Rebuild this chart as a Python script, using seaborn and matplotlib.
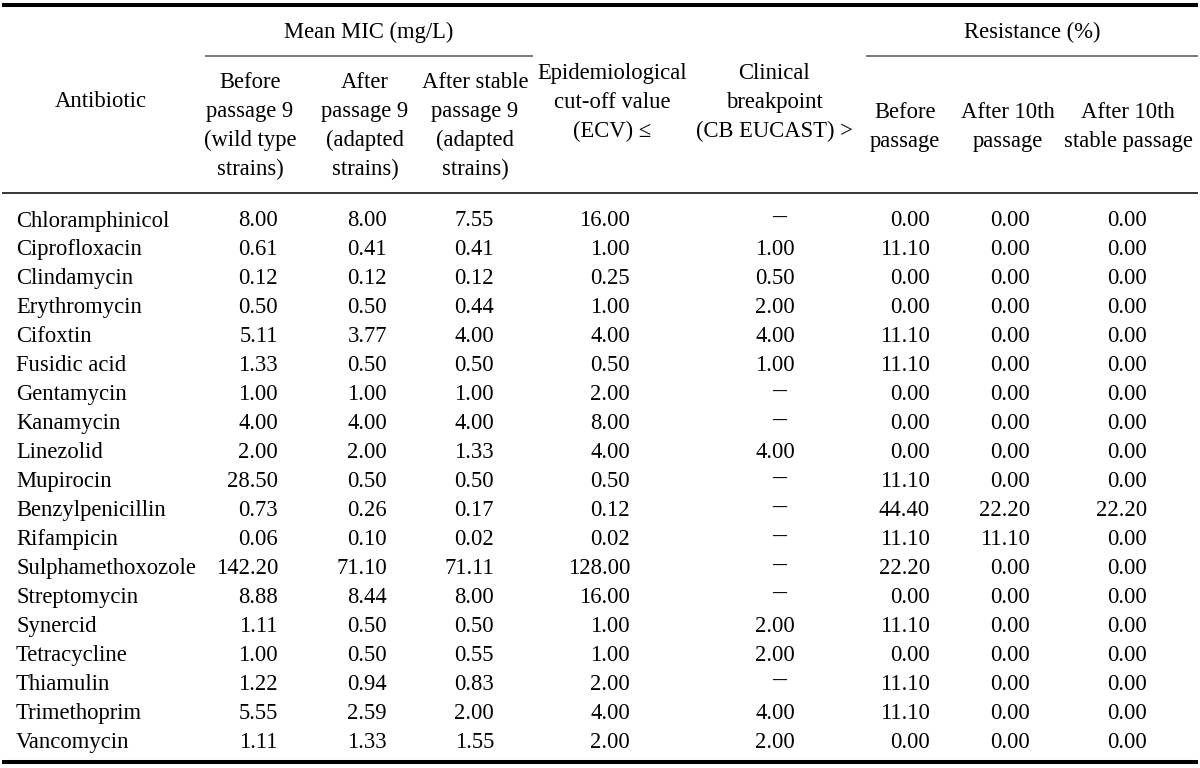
import matplotlib
matplotlib.use("Agg")
import matplotlib.pyplot as plt
import seaborn as sns
import pandas as pd
import numpy as np

antibiotics = ["Chloramphinicol", "Ciprofloxacin", "Clindamycin", "Erythromycin", "Cifoxtin",
               "Fusidic acid", "Gentamycin", "Kanamycin", "Linezolid", "Mupirocin",
               "Benzylpenicillin", "Rifampicin", "Sulphamethoxozole", "Streptomycin",
               "Synercid", "Tetracycline", "Thiamulin", "Trimethoprim", "Vancomycin"]
mic_before = [8.00, 0.61, 0.12, 0.50, 5.11, 1.33, 1.00, 4.00, 2.00, 28.50, 0.73, 0.06,
              142.20, 8.88, 1.11, 1.00, 1.22, 5.55, 1.11]
mic_after = [8.00, 0.41, 0.12, 0.50, 3.77, 0.50, 1.00, 4.00, 2.00, 0.50, 0.26, 0.10,
             71.10, 8.44, 0.50, 0.50, 0.94, 2.59, 1.33]
mic_stable = [7.55, 0.41, 0.12, 0.44, 4.00, 0.50, 1.00, 4.00, 1.33, 0.50, 0.17, 0.02,
              71.11, 8.00, 0.50, 0.55, 0.83, 2.00, 1.55]
ecv = [16.00, 1.00, 0.25, 1.00, 4.00, 0.50, 2.00, 8.00, 4.00, 0.50, 0.12, 0.02,
       128.00, 16.00, 1.00, 1.00, 2.00, 4.00, 2.00]
cb = [None, 1.00, 0.50, 2.00, 4.00, 1.00, None, None, 4.00, None, None, None,
      None, None, 2.00, 2.00, None, 4.00, 2.00]
res_before = [0.00, 11.10, 0.00, 0.00, 11.10, 11.10, 0.00, 0.00, 0.00, 11.10, 44.40, 11.10,
              22.20, 0.00, 11.10, 0.00, 11.10, 11.10, 0.00]
res_after = [0.00, 0.00, 0.00, 0.00, 0.00, 0.00, 0.00, 0.00, 0.00, 0.00, 22.20, 11.10,
             0.00, 0.00, 0.00, 0.00, 0.00, 0.00, 0.00]
res_stable = [0.00, 0.00, 0.00, 0.00, 0.00, 0.00, 0.00, 0.00, 0.00, 0.00, 22.20, 0.00,
              0.00, 0.00, 0.00, 0.00, 0.00, 0.00, 0.00]

group_labels = ["Mean MIC (mg/L)", "Resistance (%)"]
col_headers = [
    ["Before", "passage 9", "(wild type", "strains)"],
    ["After", "passage 9", "(adapted", "strains)"],
    ["After stable", "passage 9", "(adapted", "strains)"],
    ["Epidemiological", "cut-off value", "(ECV) \u2264"],
    ["Clinical", "breakpoint", "(CB EUCAST) >"],
    ["Before", "passage"],
    ["After 10th", "passage"],
    ["After 10th", "stable passage"],
]

df = pd.DataFrame({
    "Antibiotic": antibiotics,
    "mic_before": mic_before, "mic_after": mic_after, "mic_stable": mic_stable,
    "ecv": ecv, "cb": cb,
    "res_before": res_before, "res_after": res_after, "res_stable": res_stable,
})
value_cols = ["mic_before", "mic_after", "mic_stable", "ecv", "cb",
              "res_before", "res_after", "res_stable"]

sns.set_theme(style="white")
plt.rcParams["font.family"] = ["Liberation Serif", "DejaVu Serif"]

W, H = 1200, 768
fig = plt.figure(figsize=(W / 100, H / 100), dpi=100)
ax = fig.add_axes([0, 0, 1, 1])
ax.set_xlim(0, W)
ax.set_ylim(H, 0)
ax.axis("off")

FS = 16.3
TXT = "#000000"
col_right = [278, 387, 494, 630, 795, 930, 1030, 1147]
head_center = [250, 365, 475, 612, 774, 905, 1008, 1128]
head_first_baseline = [88, 88, 88, 79, 79, 118, 118, 118]
line_step = 29
row0 = 226.5
row_step = 28.95

# rules
ax.plot([2, 1198], [5, 5], color="black", lw=2.9, solid_capstyle="butt")
ax.plot([2, 1198], [193, 193], color="black", lw=1.1, solid_capstyle="butt")
ax.plot([205, 533], [56, 56], color="#555555", lw=1.1, solid_capstyle="butt")
ax.plot([866, 1198], [56, 56], color="#555555", lw=1.1, solid_capstyle="butt")
ax.plot([2, 1198], [762, 762], color="black", lw=2.9, solid_capstyle="butt")

# group headers
ax.text(369, 38, group_labels[0], ha="center", va="baseline", fontsize=FS, color=TXT)
ax.text(1032, 38, group_labels[1], ha="center", va="baseline", fontsize=FS, color=TXT)
ax.text(101, 107, "Antibiotic", ha="center", va="baseline", fontsize=FS, color=TXT)

for c, lines in enumerate(col_headers):
    for k, t in enumerate(lines):
        ax.text(head_center[c], head_first_baseline[c] + k * line_step, t,
                ha="center", va="baseline", fontsize=FS, color=TXT)

# body
for i, row in df.iterrows():
    y = row0 + i * row_step
    ax.text(16, y, row["Antibiotic"], ha="left", va="baseline", fontsize=FS, color=TXT)
    for c, col in enumerate(value_cols):
        v = row[col]
        if v is None or (isinstance(v, float) and np.isnan(v)):
            ax.text(779, y - 2.5, "\u2013", ha="center", va="baseline", fontsize=20,
                    color=TXT)
        else:
            ax.text(col_right[c], y, f"{v:.2f}", ha="right", va="baseline",
                    fontsize=FS, color=TXT)

fig.savefig("out.png", dpi=100)
